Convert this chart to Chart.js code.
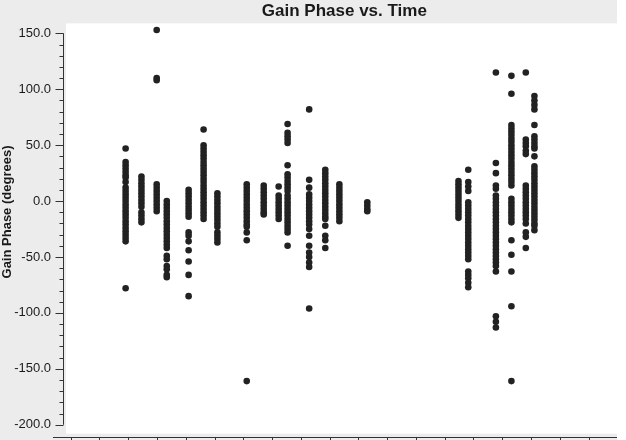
<!DOCTYPE html>
<html>
<head>
<meta charset="utf-8">
<script src="https://cdn.jsdelivr.net/npm/chart.js@4.4.1/dist/chart.umd.min.js"></script>
<style>
  html, body { margin: 0; padding: 0; background: #fff; }
</style>
</head>
<body>
<canvas id="myChart" width="626" height="440"></canvas>
<script>
// time of each scan (in axis tick units) and the gain phases measured in it
const scanTimes = [1.91, 2.46, 2.99, 3.34, 4.10, 4.62, 5.10, 6.12, 6.71, 7.23, 7.54,
                   8.29, 8.85, 9.34, 10.31, 13.48, 13.82, 14.78, 15.32, 15.82, 16.12];

const scanPhases = [
  [47, 35, 32, 29, 26, 23, 21, 17, 12, 9, 6, 3, 0, -3, -6, -9, -12, -15, -18, -21, -24, -27, -30, -33, -36, -78],
  [22, 19, 16, 13, 10, 7, 4, 1, -2, -5, -10, -13, -16, -19],
  [153, 110, 108, 15, 12, 9, 6, 3, 0, -3, -6, -9],
  [0, -3, -6, -9, -12, -15, -18, -21, -24, -27, -30, -33, -36, -39, -42, -49, -52, -58, -61, -66, -68],
  [10, 7, 4, 1, -2, -5, -8, -11, -14, -28, -31, -36, -44, -54, -66, -85],
  [64, 50, 47, 44, 41, 38, 35, 32, 29, 26, 23, 20, 17, 14, 11, 8, 5, 2, -1, -4, -7, -10, -13, -16],
  [7, 4, 1, -2, -5, -8, -11, -14, -17, -20, -23, -28, -31, -34, -37],
  [15, 12, 9, 6, 3, 0, -3, -6, -9, -12, -15, -18, -21, -23, -28, -35, -161],
  [14, 11, 8, 5, 2, -1, -4, -7, -10, -12],
  [13, 5, 2, -1, -4, -7, -10, -13, -16],
  [69, 61, 58, 55, 52, 32, 24, 21, 18, 15, 12, 9, 5, 2, -1, -4, -7, -10, -13, -16, -19, -22, -25, -28, -40],
  [82, 19, 12, 6, 3, 0, -3, -6, -9, -12, -15, -18, -21, -25, -31, -40, -46, -50, -55, -59, -96],
  [28, 25, 22, 19, 16, 13, 10, 7, 4, 1, -2, -5, -8, -11, -14, -16, -22, -31, -35, -42],
  [15, 12, 9, 6, 3, 0, -3, -6, -9, -12, -15, -18],
  [-1, -4, -7, -9],
  [18, 15, 12, 9, 6, 3, 0, -3, -6, -9, -12, -15],
  [28, 17, 13, 9, -1, -4, -7, -10, -13, -16, -19, -22, -25, -28, -31, -34, -37, -40, -43, -46, -49, -52, -63, -66, -69, -73, -77],
  [115, 34, 25, 14, 11, 5, 2, -1, -4, -7, -10, -13, -16, -19, -22, -25, -28, -31, -34, -37, -40, -43, -46, -49, -52, -55, -58, -63, -103, -108, -113],
  [112, 96, 68, 65, 62, 59, 56, 53, 50, 47, 44, 41, 38, 35, 32, 29, 26, 23, 20, 17, 14, 2, -1, -4, -7, -10, -13, -16, -19, -35, -48, -63, -94, -161],
  [115, 55, 52, 49, 45, 42, 14, 11, 8, 5, 2, -1, -4, -7, -10, -13, -16, -20, -28, -32, -42],
  [94, 90, 86, 82, 68, 58, 55, 52, 49, 47, 40, 31, 28, 25, 22, 19, 16, 13, 10, 7, 4, 1, -2, -5, -8, -11, -14, -17, -20, -22, -26]
];

const timeTicks = [0, 1, 2, 3, 4, 5, 6, 7, 8, 9, 10, 11, 12, 13, 14, 15, 16, 17, 18];
const phaseMajor = [150, 100, 50, 0, -50, -100, -150, -200];

const points = scanTimes.flatMap((t, i) => scanPhases[i].map(p => ({ x: t, y: p })));

// grey panel, white plot box, and the detached axes
const frame = {
  id: 'frame',
  beforeDraw(chart) {
    const { ctx, chartArea: a } = chart;
    ctx.save();
    ctx.fillStyle = '#ffffff';
    ctx.fillRect(0, 0, chart.width, chart.height);
    ctx.fillStyle = '#ececec';
    ctx.fillRect(0, 0, 617, chart.height);
    ctx.fillStyle = '#ffffff';
    ctx.fillRect(a.left, a.top, chart.width - a.left, a.bottom - 3 - a.top);
    ctx.restore();
  },
  afterDraw(chart) {
    const { ctx, chartArea: a, scales: { x, y } } = chart;
    ctx.save();
    ctx.strokeStyle = '#333';
    ctx.lineWidth = 1;
    ctx.beginPath();
    const ax = Math.round(a.left - 3) + 0.5;
    ctx.moveTo(ax, y.getPixelForValue(150));
    ctx.lineTo(ax, y.getPixelForValue(-200));
    for (let v = -200; v <= 150; v += 10) {
      const py = Math.round(y.getPixelForValue(v)) + 0.5;
      const len = phaseMajor.includes(v) ? 8 : 4;
      ctx.moveTo(ax, py);
      ctx.lineTo(ax - len, py);
    }
    const by = Math.round(a.bottom) + 0.5;
    ctx.moveTo(a.left - 13, by);
    ctx.lineTo(617, by);
    timeTicks.forEach(t => {
      const px = Math.round(x.getPixelForValue(t)) + 0.5;
      ctx.moveTo(px, by);
      ctx.lineTo(px, by + 5);
    });
    ctx.stroke();

    ctx.fillStyle = '#1a1a1a';
    ctx.font = 'bold 13px "Liberation Sans", Arial, sans-serif';
    ctx.textAlign = 'center';
    ctx.textBaseline = 'middle';
    ctx.translate(7, 212);
    ctx.rotate(-Math.PI / 2);
    ctx.fillText('Gain Phase (degrees)', 0, 0);
    ctx.restore();
  }
};

const ctx = document.getElementById('myChart').getContext('2d');

const myChart = new Chart(ctx, {
  type: 'scatter',
  data: {
    datasets: [{
      label: 'Gain Phase',
      data: points,
      backgroundColor: '#222222',
      borderWidth: 0,
      pointRadius: 3.3,
      pointHoverRadius: 3.3
    }]
  },
  options: {
    responsive: false,
    animation: false,
    clip: false,
    layout: { padding: { left: 0, right: 0, top: 0, bottom: 3 } },
    plugins: {
      legend: { display: false },
      tooltip: { enabled: false },
      title: {
        display: true,
        text: 'Gain Phase vs. Time',
        fullSize: false,
        color: '#1a1a1a',
        font: { family: '"Liberation Sans", Arial, sans-serif', size: 17, weight: 'bold' },
        padding: { top: 1, bottom: 2 }
      }
    },
    scales: {
      x: {
        type: 'linear',
        min: -0.1624,
        max: 19.188,
        grid: { display: false, drawTicks: false },
        border: { display: false },
        ticks: { display: false, stepSize: 1 },
        afterFit: s => {
          s.height = 0;
          s.paddingLeft = 0;
          s.paddingRight = 0;
        }
      },
      y: {
        min: -210.7,
        max: 158.9,
        grid: { display: false, drawTicks: false },
        border: { display: false },
        afterFit: s => {
          s.width = 66;
          s.paddingTop = 0;
          s.paddingBottom = 0;
        },
        ticks: {
          stepSize: 50,
          includeBounds: false,
          autoSkip: false,
          padding: 15,
          color: '#1a1a1a',
          font: { family: '"Liberation Sans", Arial, sans-serif', size: 13 },
          callback: v => v.toFixed(1)
        }
      }
    }
  },
  plugins: [frame]
});
</script>
</body>
</html>
